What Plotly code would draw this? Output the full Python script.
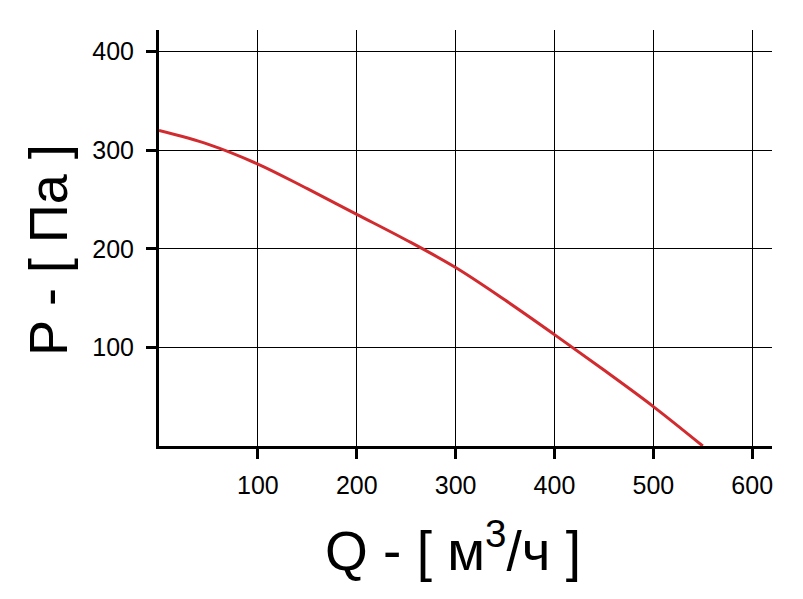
import plotly.graph_objects as go

# fan curve: flow Q (m3/h) vs pressure P (Pa)
flow = [0, 50, 100, 150, 200, 250, 300, 350, 400, 450, 500, 550]
pressure = [320, 306, 286, 261, 235, 209, 181, 148, 113, 77, 40, 0]

x_ticks = [100, 200, 300, 400, 500, 600]
y_ticks = [100, 200, 300, 400]

x_title = 'Q - [ м<sup>3</sup>/ч ]'
y_title = 'P - [ Па ]'

FONT = 'Liberation Sans, Arial'

fig = go.Figure()
fig.add_trace(go.Scatter(
    x=flow, y=pressure, mode='lines',
    line=dict(color='#d22b2f', width=3, shape='spline', smoothing=1),
    showlegend=False, hoverinfo='skip'
))

axis_common = dict(
    showline=True, linecolor='black', linewidth=3,
    showgrid=True, gridcolor='black', gridwidth=1,
    ticks='outside', ticklen=10, tickwidth=3, tickcolor='black',
    zeroline=False,
    tickfont=dict(family=FONT, size=25, color='black'),
)

fig.update_xaxes(range=[0, 620], tickvals=x_ticks, ticklabelstandoff=5, **axis_common)
fig.update_yaxes(range=[0, 422], tickvals=y_ticks, ticklabelstandoff=7, **axis_common)

# axis titles placed by hand to match the original
fig.add_annotation(text=x_title, xref='paper', yref='paper', x=0.4796, y=-0.243,
                   showarrow=False, xanchor='center', yanchor='middle',
                   font=dict(family=FONT, size=55, color='black'))
fig.add_annotation(text=y_title, xref='paper', yref='paper', x=-0.181, y=0.471,
                   showarrow=False, xanchor='center', yanchor='middle', textangle=-90,
                   font=dict(family=FONT, size=54, color='black'))

# page body has an 8px margin, so the figure is shrunk by that much
fig.update_layout(
    width=795, height=591,
    margin=dict(l=151, r=31, t=22, b=153),
    plot_bgcolor='white', paper_bgcolor='white',
)

fig.write_html("out.html")
